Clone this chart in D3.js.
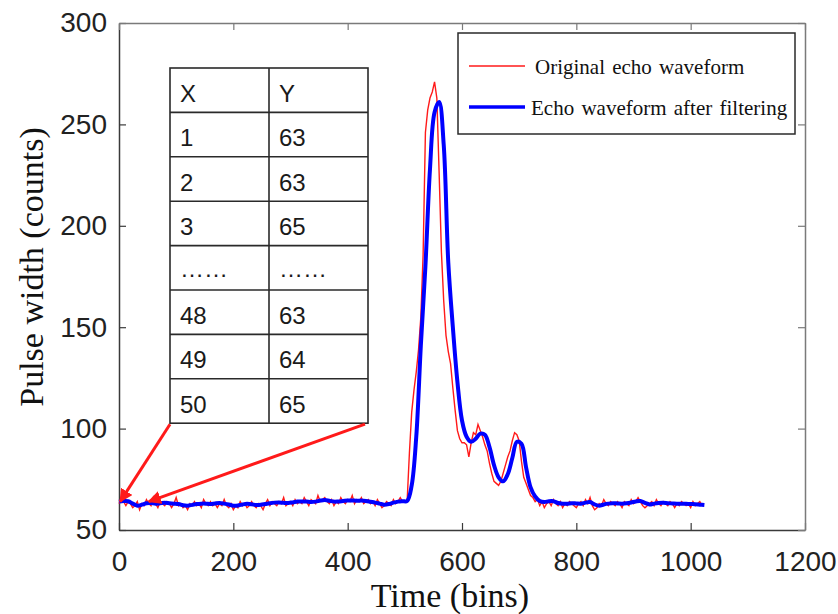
<!DOCTYPE html>
<html>
<head>
<meta charset="utf-8">
<script src="https://cdn.jsdelivr.net/npm/d3@7/dist/d3.min.js"></script>
<style>
body{margin:0;background:#fff;}
.tickText{font-family:"Liberation Sans",Arial,sans-serif;font-size:28px;fill:#222;}
.axisTitle{font-family:"Liberation Serif","Times New Roman",serif;font-size:34px;fill:#111;}
.legendText{font-family:"Liberation Serif","Times New Roman",serif;font-size:21px;fill:#111;word-spacing:2px;}
.tableText{font-family:"Liberation Sans",Arial,sans-serif;font-size:24px;fill:#1a1a1a;}
</style>
</head>
<body>
<script>
//wrap everything in a self-executing anonymous function
(function(){

//tick values
var xTicks = [0, 200, 400, 600, 800, 1000, 1200];
var yTicks = [50, 100, 150, 200, 250, 300];

//original echo waveform, one value every 4 bins starting at bin 0
var redStep = 4;
var redValues = [
  63, 65, 64, 62, 64, 63, 61, 62, 64, 60,
  63, 62, 65, 63, 62, 66, 63, 61, 64, 63,
  62, 64, 63, 61, 63, 66, 62, 63, 61, 62,
  60, 63, 62, 64, 62, 63, 61, 65, 63, 62,
  64, 62, 63, 61, 63, 62, 65, 62, 61, 63,
  60, 62, 61, 64, 62, 63, 61, 62, 64, 62,
  61, 63, 62, 60, 63, 65, 62, 64, 63, 62,
  64, 63, 66, 62, 63, 64, 62, 65, 63, 64,
  63, 66, 64, 62, 65, 64, 63, 67, 64, 65,
  66, 64, 63, 65, 62, 64, 63, 66, 64, 63,
  65, 64, 67, 63, 65, 64, 66, 63, 64, 65,
  63, 64, 62, 65, 63, 61, 62, 64, 63, 62,
  65, 63, 64, 66, 64, 64,
  64, 88, 108, 119, 128, 139, 155, 186, 246, 257,
  263, 266, 271, 263, 226, 187, 163, 146, 138, 132,
  120, 109, 99, 95, 93, 93, 92, 86, 93, 98,
  97, 102, 99, 96, 92, 89, 83, 78, 74, 73,
  72, 74, 78, 82, 86, 89, 94, 98, 97, 94,
  84, 76, 73, 70, 67, 66, 64, 65, 62, 64,
  61, 63, 64, 62, 65, 63, 62, 64, 61, 63,
  62, 64, 63, 62, 61, 63, 64, 62, 65, 63,
  66, 62, 60, 61, 63, 62, 65, 63, 62, 64,
  63, 62, 64, 63, 61, 64, 63, 62, 65, 63,
  64, 66, 64, 62, 61, 62, 63, 64, 62, 65,
  63, 62, 64, 63, 62, 64, 63, 61, 63, 62,
  64, 63, 62, 63, 61, 64, 62, 63, 64, 62
];

//filtered echo waveform, one value every 8 bins starting at bin 0
var blueStep = 8;
var blueValues = [
  64, 64.3, 64.2, 63, 62, 62.5, 63.2, 63.3, 63, 63.2,
  63.4, 63.2, 63, 62.8, 62.2, 62, 62.4, 62.8, 63, 63,
  62.8, 63.1, 63.3, 63, 62.6, 62, 62.1, 62.6, 62.9, 62.7,
  62.3, 62.4, 62.8, 63.2, 63.5, 63.6, 63.4, 63.3, 63.6, 64,
  64.1, 64, 63.8, 64, 64.5, 64.8, 64.4, 64, 64.1, 64.3,
  64.5, 64.6, 64.4, 64.5, 64.3, 63.9, 63.5, 63, 62.5, 62.8,
  63.5, 64, 64.2, 64.3, 72, 96, 141, 180, 228, 256,
  261, 240, 182, 150, 123, 104, 96, 93.5, 95, 97.5,
  97, 91, 82, 76, 74, 77.5, 85.5, 93.5, 92.5, 81,
  71, 66.5, 64.3, 63.8, 64.2, 64.2, 63.3, 63, 63, 63.2,
  63.1, 63, 63.5, 63.8, 62.6, 62, 62.6, 63, 63.2, 63.1,
  63, 63.2, 63.6, 64.1, 64.3, 63.4, 62.6, 63, 63.3, 63.4,
  63.2, 63.1, 63, 63, 62.9, 62.8, 62.7, 62.5, 62.3
];

//inset table contents
var tableHeader = ["X", "Y"];
var tableRows = [
  ["1", "63"], ["2", "63"], ["3", "65"], ["\u2026\u2026", "\u2026\u2026"],
  ["48", "63"], ["49", "64"], ["50", "65"]
];

//legend labels
var legendLabels = ["Original echo waveform", "Echo waveform after filtering"];

//points the arrows point to [bin, counts]
var arrowTargets = [[2, 64], [52, 64]];

//frame
var width = 838,
    height = 614,
    margin = {left: 119, top: 23, right: 33, bottom: 84},
    innerWidth = width - margin.left - margin.right,
    innerHeight = height - margin.top - margin.bottom;

var svg = d3.select("body")
    .append("svg")
    .attr("width", width)
    .attr("height", height);

var x = d3.scaleLinear().domain([0, 1200]).range([margin.left, margin.left + innerWidth]);
var y = d3.scaleLinear().domain([50, 300]).range([margin.top + innerHeight, margin.top]);

//axes, ticks pointing inward
var bottomAxis = svg.append("g")
    .attr("transform", "translate(0," + (margin.top + innerHeight) + ")")
    .call(d3.axisBottom(x).tickValues(xTicks).tickFormat(d3.format("d"))
        .tickSizeInner(-7).tickSizeOuter(0).tickPadding(21));
var leftAxis = svg.append("g")
    .attr("transform", "translate(" + margin.left + ",0)")
    .call(d3.axisLeft(y).tickValues(yTicks).tickFormat(d3.format("d"))
        .tickSizeInner(-7).tickSizeOuter(0).tickPadding(12));
var topAxis = svg.append("g")
    .attr("transform", "translate(0," + margin.top + ")")
    .call(d3.axisTop(x).tickValues(xTicks).tickSizeInner(-7).tickSizeOuter(0).tickFormat(""));
var rightAxis = svg.append("g")
    .attr("transform", "translate(" + (margin.left + innerWidth) + ",0)")
    .call(d3.axisRight(y).tickValues(yTicks).tickSizeInner(-7).tickSizeOuter(0).tickFormat(""));

[bottomAxis, leftAxis].forEach(function(a){
    a.select(".domain").attr("stroke", "#3a3a3a").attr("stroke-width", 1.5);
    a.selectAll(".tick line").attr("stroke", "#3a3a3a").attr("stroke-width", 1.2);
    a.selectAll(".tick text").attr("class", "tickText");
});
[topAxis, rightAxis].forEach(function(a){
    a.select(".domain").attr("stroke", "#7a7a7a").attr("stroke-width", 1.5);
    a.selectAll(".tick line").attr("stroke", "#7a7a7a").attr("stroke-width", 1.2);
});

//axis titles
svg.append("text")
    .attr("class", "axisTitle")
    .attr("x", 450)
    .attr("y", 607)
    .attr("text-anchor", "middle")
    .text("Time (bins)");
svg.append("text")
    .attr("class", "axisTitle")
    .attr("transform", "translate(43," + 267 + ") rotate(-90)")
    .attr("text-anchor", "middle")
    .text("Pulse width (counts)");

//waveforms
var redLine = d3.line()
    .x(function(d, i){ return x(i * redStep); })
    .y(function(d){ return y(d); });
var blueLine = d3.line()
    .x(function(d, i){ return x(i * blueStep); })
    .y(function(d){ return y(d); })
    .curve(d3.curveCatmullRom.alpha(0.5));

svg.append("path")
    .datum(redValues)
    .attr("fill", "none")
    .attr("stroke", "#ff1a1a")
    .attr("stroke-width", 1.4)
    .attr("d", redLine);
svg.append("path")
    .datum(blueValues)
    .attr("fill", "none")
    .attr("stroke", "#0000ff")
    .attr("stroke-width", 4)
    .attr("stroke-linejoin", "round")
    .attr("d", blueLine);

//inset table
var table = {x: 170, y: 68, colW: 99, rowH: 44.4};
var allRows = [tableHeader].concat(tableRows);
var tbl = svg.append("g").attr("class", "table");
tbl.append("rect")
    .attr("x", table.x).attr("y", table.y)
    .attr("width", table.colW * 2).attr("height", table.rowH * allRows.length)
    .attr("fill", "#fff").attr("stroke", "#2a2a2a").attr("stroke-width", 1.6);
tbl.selectAll(".rowLine")
    .data(d3.range(1, allRows.length))
    .enter()
    .append("line")
    .attr("x1", table.x).attr("x2", table.x + table.colW * 2)
    .attr("y1", function(d){ return table.y + d * table.rowH; })
    .attr("y2", function(d){ return table.y + d * table.rowH; })
    .attr("stroke", "#2a2a2a").attr("stroke-width", 1.6);
tbl.append("line")
    .attr("x1", table.x + table.colW).attr("x2", table.x + table.colW)
    .attr("y1", table.y).attr("y2", table.y + table.rowH * allRows.length)
    .attr("stroke", "#2a2a2a").attr("stroke-width", 1.6);
allRows.forEach(function(row, r){
    row.forEach(function(cell, c){
        tbl.append("text")
            .attr("class", "tableText")
            .attr("x", table.x + c * table.colW + 10)
            .attr("y", table.y + r * table.rowH + (cell.indexOf("\u2026") >= 0 ? 31 : 34))
            .text(cell);
    });
});

//arrows from table corners to the first bins
svg.append("defs").append("marker")
    .attr("id", "arrowHead")
    .attr("viewBox", "0 0 10 10")
    .attr("refX", 9).attr("refY", 5)
    .attr("markerWidth", 4.5).attr("markerHeight", 4.5)
    .attr("orient", "auto")
    .append("path")
    .attr("d", "M0,0L10,5L0,10z")
    .attr("fill", "#ff1a1a");
var corners = [
    [table.x, table.y + table.rowH * allRows.length + 1],
    [table.x + table.colW * 2 - 3, table.y + table.rowH * allRows.length + 1]
];
svg.selectAll(".arrow")
    .data(arrowTargets)
    .enter()
    .append("line")
    .attr("class", "arrow")
    .attr("x1", function(d, i){ return corners[i][0]; })
    .attr("y1", function(d, i){ return corners[i][1]; })
    .attr("x2", function(d){ return x(d[0]); })
    .attr("y2", function(d){ return y(d[1]); })
    .attr("stroke", "#ff1a1a")
    .attr("stroke-width", 3)
    .attr("marker-end", "url(#arrowHead)");

//legend
var legend = svg.append("g").attr("class", "legend");
legend.append("rect")
    .attr("x", 458).attr("y", 33)
    .attr("width", 337).attr("height", 101)
    .attr("fill", "#fff").attr("stroke", "#2a2a2a").attr("stroke-width", 1.5);
var legendColors = ["#ff1a1a", "#0000ff"],
    legendWidths = [1.6, 3.4];
legendLabels.forEach(function(label, i){
    var ly = 66 + i * 41;
    legend.append("line")
        .attr("x1", 469).attr("x2", 525)
        .attr("y1", ly).attr("y2", ly)
        .attr("stroke", legendColors[i]).attr("stroke-width", legendWidths[i]);
    legend.append("text")
        .attr("class", "legendText")
        .attr("x", i == 0 ? 535 : 531)
        .attr("y", ly + 8)
        .text(label);
});

})();
</script>
</body>
</html>
